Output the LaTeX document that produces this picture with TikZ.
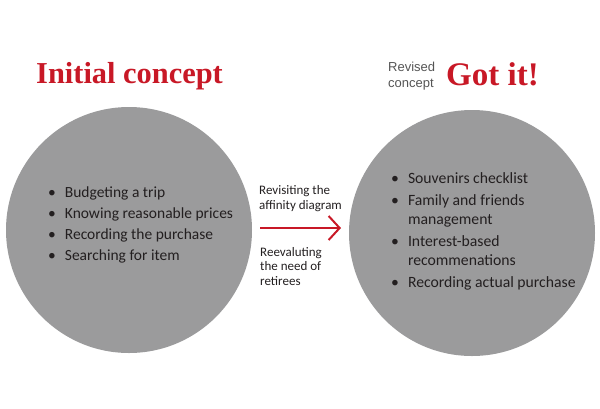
\documentclass[tikz,border=0pt]{standalone}
\usepackage{fontspec}
\setmainfont{Liberation Serif}
\newfontfamily\listfont{Carlito}
\newfontfamily\notefont{Liberation Sans}
\usetikzlibrary{arrows.meta}

\definecolor{conceptred}{RGB}{200,24,38}
\definecolor{discgray}{RGB}{155,155,156}
\definecolor{listtext}{RGB}{35,31,32}
\definecolor{notegray}{RGB}{85,85,85}

\tikzset{
  disc/.style={circle, fill=discgray, minimum size=246pt, inner sep=0pt},
  title/.style={anchor=base west, inner sep=0pt, text=conceptred, font=\bfseries},
  items/.style={anchor=base west, inner sep=0pt, text=listtext},
  stepnote/.style={anchor=base west, inner sep=0pt, align=left, text=listtext,
    font=\listfont\fontsize{13}{14.5}\selectfont},
}

\begin{document}
\begin{tikzpicture}[x=1pt, y=-1pt, >={Straight Barb[length=11pt, width=24pt]}]

\useasboundingbox (0,0) rectangle (600,408);

% Titles
\node[title, font=\fontsize{30.4}{34}\selectfont\bfseries] (initial) at (36,83) {Initial concept};
\node[anchor=base west, inner sep=0pt, align=left, text=notegray,
  font=\notefont\fontsize{13}{16}\selectfont] (revised) at (388,87) {Revised\\concept};
\node[title, font=\fontsize{33}{36}\selectfont\bfseries] (gotit) at (446,85) {Got it!};

% The two concepts
\node[disc] (initdisc) at (129,230) {};
\node[disc] (revdisc) at (472,233) {};

% Initial list
\node[items] (initlist) at (48,197) {\listfont\fontsize{15.5}{21.3}\selectfont
  \begin{tabular}[t]{@{}l@{\hspace{9pt}}l@{}}
  \textbullet & Budgeting a trip\\
  \textbullet & Knowing reasonable prices\\
  \textbullet & Recording the purchase\\
  \textbullet & Searching for item
  \end{tabular}};

% Revised list
\node[items] (revlist) at (391,183) {\listfont\fontsize{15.7}{19}\selectfont
  \begin{tabular}[t]{@{}l@{\hspace{9pt}}l@{}}
  \textbullet & Souvenirs checklist\\[3pt]
  \textbullet & Family and friends\\
   & management\\[3pt]
  \textbullet & Interest-based\\
   & recommenations\\[3pt]
  \textbullet & Recording actual purchase
  \end{tabular}};

% Transition
\coordinate (arrfrom) at (260,228);
\coordinate (arrto) at (341,228);
\draw[->, conceptred, line width=2pt] (arrfrom) -- (arrto);
\node[stepnote] (revisit) at (259,209) {Revisiting the\\affinity diagram};
\node[stepnote] (reeval) at (260,285) {Reevaluting\\the need of\\retirees};

\end{tikzpicture}
\end{document}
